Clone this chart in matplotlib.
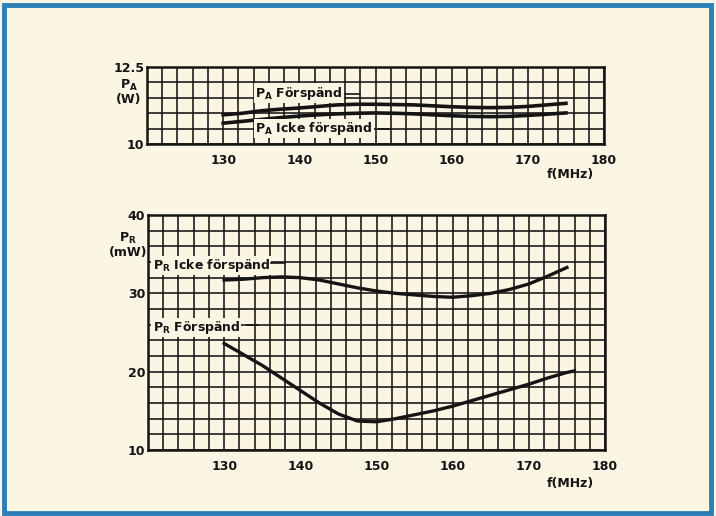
import numpy as np
import matplotlib
matplotlib.use("Agg")
import matplotlib.pyplot as plt
from matplotlib.patches import Rectangle

# Frequency axis (MHz)
freq = [130, 132.5, 135, 137.5, 140, 142.5, 145, 147.5, 150, 152.5,
        155, 157.5, 160, 162.5, 165, 167.5, 170, 172.5, 175]

# Output power P_A (W)
pa_forspand = [10.95, 11.00, 11.08, 11.13, 11.17, 11.22, 11.27, 11.29, 11.29, 11.28,
               11.27, 11.24, 11.21, 11.19, 11.18, 11.19, 11.22, 11.27, 11.32]
pa_icke = [10.68, 10.74, 10.80, 10.86, 10.91, 10.95, 10.98, 11.00, 11.01, 11.00,
           10.98, 10.95, 10.92, 10.90, 10.89, 10.90, 10.93, 10.97, 11.01]

# Reflected power P_R (mW)
pr_icke = [31.7, 31.8, 32.0, 32.1, 32.0, 31.7, 31.2, 30.7, 30.3, 30.0,
           29.8, 29.6, 29.5, 29.7, 30.0, 30.5, 31.2, 32.2, 33.3]
pr_forspand_freq = freq + [176]
pr_forspand = [23.6, 22.2, 20.8, 19.2, 17.6, 16.0, 14.6, 13.7, 13.6, 14.0,
               14.5, 15.0, 15.6, 16.3, 17.0, 17.7, 18.4, 19.2, 19.9, 20.1]

x_ticks = [120, 130, 140, 150, 160, 170, 180]
x_labels = ["", "130", "140", "150", "160", "170", "180"]
pa_ticks = [10, 12.5]
pr_ticks = [10, 20, 30, 40]

BG = "#fbf6e4"
INK = "#141414"
FONT = dict(family="DejaVu Sans", weight="bold", color=INK)

fig = plt.figure(figsize=(7.16, 5.16), dpi=100, facecolor="#f7f3e6")
frame = Rectangle((4 / 716, 3 / 516), 707 / 716, 508 / 516,
                  transform=fig.transFigure, facecolor=BG,
                  edgecolor="#2b7fb8", linewidth=3.5, zorder=-10)
fig.add_artist(frame)


def style_axes(ax, ylim, yticks, ystep):
    ax.set_facecolor(BG)
    ax.set_xlim(120, 180)
    ax.set_ylim(*ylim)
    ax.set_xticks(x_ticks)
    ax.set_xticks(np.arange(120, 181, 2), minor=True)
    ax.set_yticks(yticks)
    ax.set_yticks(np.arange(ylim[0], ylim[1] + 1e-9, ystep), minor=True)
    ax.grid(True, which="both", color=INK, linewidth=1.15)
    ax.tick_params(which="both", length=0)
    ax.set_xticklabels(x_labels, fontsize=9, **FONT)
    ax.set_yticklabels([("%g" % t) for t in yticks], fontsize=9, **FONT)
    ax.tick_params(axis="x", pad=7)
    ax.tick_params(axis="y", pad=2)
    for s in ax.spines.values():
        s.set_linewidth(1.8)
        s.set_color(INK)
    ax.set_axisbelow(True)


def curve_label(ax, x, y, text, x0, x1, yl):
    ax.text(x, y, text, fontsize=9, va="center", ha="left", zorder=5,
            bbox=dict(facecolor=BG, edgecolor="none", pad=0.8), **FONT)
    ax.plot([x0, x1], [yl, yl], color=INK, linewidth=1.2, zorder=5)


# Upper panel: P_A
ax1 = fig.add_axes([147 / 716, 1 - 144.3 / 516, 457 / 716, 77.6 / 516])
style_axes(ax1, (10, 12.5), pa_ticks, 0.5)
ax1.plot(freq, pa_forspand, color=INK, linewidth=2.6, zorder=4)
ax1.plot(freq, pa_icke, color=INK, linewidth=2.6, zorder=4)
curve_label(ax1, 134.2, 11.65, r"$\mathregular{P_A}$ Förspänd", 146.0, 148.0, 11.62)
curve_label(ax1, 134.2, 10.52, r"$\mathregular{P_A}$ Icke förspänd", 150.4, 152.0, 10.5)
fig.text(129 / 716, 1 - 92 / 516, r"$\mathregular{P_A}$" + "\n(W)", fontsize=9,
         ha="center", va="center", linespacing=1.0, **FONT)
fig.text(570 / 716, 1 - 175 / 516, "f(MHz)", fontsize=9, ha="center", va="center", **FONT)

# Lower panel: P_R
ax2 = fig.add_axes([148 / 716, 1 - 450 / 516, 457 / 716, 235 / 516])
style_axes(ax2, (10, 40), pr_ticks, 2)
ax2.plot(freq, pr_icke, color=INK, linewidth=2.4, zorder=4)
ax2.plot(pr_forspand_freq, pr_forspand, color=INK, linewidth=2.4, zorder=4)
curve_label(ax2, 120.6, 33.6, r"$\mathregular{P_R}$ Icke förspänd", 136.2, 137.8, 33.9)
curve_label(ax2, 120.6, 25.6, r"$\mathregular{P_R}$ Förspänd", 133.0, 134.4, 25.9)
fig.text(128 / 716, 1 - 245 / 516, r"$\mathregular{P_R}$" + "\n(mW)", fontsize=9,
         ha="center", va="center", linespacing=1.0, **FONT)
fig.text(570 / 716, 1 - 483 / 516, "f(MHz)", fontsize=9, ha="center", va="center", **FONT)

fig.savefig("out.png", dpi=100, facecolor=fig.get_facecolor())
